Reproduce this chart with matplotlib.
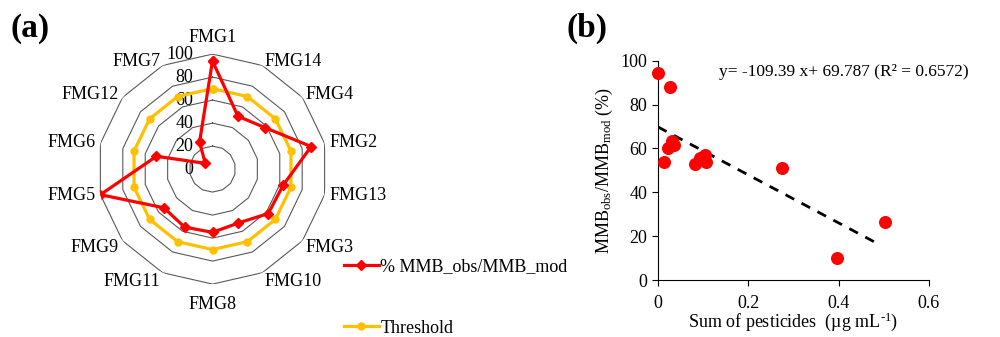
import numpy as np
import matplotlib
matplotlib.use("Agg")
from matplotlib import pyplot as plt

plt.rcParams['font.family'] = ['Liberation Serif', 'DejaVu Serif']
plt.rcParams['mathtext.fontset'] = 'custom'
plt.rcParams['mathtext.rm'] = 'Liberation Serif'
plt.rcParams['mathtext.it'] = 'Liberation Serif:italic'

# radar data (clockwise from top)
categories = ['FMG1', 'FMG14', 'FMG4', 'FMG2', 'FMG13', 'FMG3', 'FMG10',
              'FMG8', 'FMG11', 'FMG9', 'FMG5', 'FMG6', 'FMG12', 'FMG7']
mmb_ratio = [94, 51, 58, 88, 63, 62, 52, 55, 56, 54, 100, 50, 8, 26]
threshold = [70] * 14
ring_levels = [0, 20, 40, 60, 80, 100]

# scatter data
pesticides = [0.0, 0.026, 0.013, 0.022, 0.032, 0.036, 0.083, 0.092, 0.103,
              0.107, 0.274, 0.397, 0.502]
mmb_obs_mod = [94.4, 87.8, 53.8, 60.0, 63.5, 61.5, 52.7, 55.5, 57.0, 53.6,
               51.2, 10.2, 26.6]
slope = -109.39
intercept = 69.787
r_squared = 0.6572
fit_range = [0.0, 0.494]

red = '#FF0000'
gold = '#FFC000'
fs = 13

fig = plt.figure(figsize=(10, 3.37), dpi=100)

# ---- (a) radar ----
ax = fig.add_axes([0.0975, 0.157, 0.23, 0.6825], projection='polar')
ax.set_theta_zero_location('N')
ax.set_theta_direction(-1)
ax.set_ylim(0, 100)
ax.grid(False)
ax.spines['polar'].set_visible(False)
ax.set_xticks([])
ax.set_yticks([])
ax.patch.set_alpha(0)

n = len(categories)
theta = np.arange(n) * 2 * np.pi / n
theta_closed = np.append(theta, theta[0])

for lev in ring_levels[1:]:
    ax.plot(theta_closed, [lev] * (n + 1), color='#595959', lw=0.8, zorder=1)
for lev in ring_levels:
    ax.annotate(str(lev), xy=(0, lev), xytext=(-14, 0), textcoords='offset points',
                ha='right', va='center', fontsize=fs)

for t, name in zip(theta, categories):
    s = np.sin(t)
    c = np.cos(t)
    if abs(s) < 0.1:
        ha = 'center'
        va = 'bottom' if c > 0 else 'top'
        r = 107
    else:
        ha = 'left' if s > 0 else 'right'
        va = 'center'
        r = 104
    dy = -3 if c < -0.5 else 0
    ax.annotate(name, xy=(t, r), xytext=(0, dy), textcoords='offset points',
                ha=ha, va=va, fontsize=fs, annotation_clip=False)

l1, = ax.plot(theta_closed, mmb_ratio + mmb_ratio[:1], color=red, lw=2.3,
              marker='D', ms=5.5, zorder=4, label='% MMB_obs/MMB_mod')
l2, = ax.plot(theta_closed, threshold + threshold[:1], color=gold, lw=2.3,
              marker='o', ms=5, zorder=3, label='Threshold')

fig.legend(handles=[l1, l2], loc='upper left', bbox_to_anchor=(0.337, 0.255),
           frameon=False, fontsize=fs, handlelength=1.9, handletextpad=0.1,
           labelspacing=2.45, borderaxespad=0)

# ---- (b) scatter ----
bx = fig.add_axes([0.658, 0.169, 0.271, 0.651])
bx.scatter(pesticides, mmb_obs_mod, s=70, color=red, zorder=3, clip_on=False)
fx = np.array(fit_range)
bx.plot(fx, slope * fx + intercept, color='black', lw=2, ls=(0, (3.5, 3)))
bx.set_xlim(0, 0.6)
bx.set_ylim(0, 100)
bx.set_xticks([0, 0.2, 0.4, 0.6])
bx.set_xticklabels(['0', '0.2', '0.4', '0.6'])
bx.set_yticks(ring_levels)
bx.spines['top'].set_visible(False)
bx.spines['right'].set_visible(False)
bx.tick_params(labelsize=fs, direction='out', length=4)
bx.tick_params(axis='x', pad=7)
bx.set_xlabel(r'Sum of pesticides  (µg mL$^{\text{-1}}$)', fontsize=fs, labelpad=-1)
bx.set_ylabel(r'MMB$_{\mathrm{obs}}$/MMB$_{\mathrm{mod}}$ (%)', fontsize=fs, labelpad=4)
bx.text(0.135, 95, 'y= %.2f x+ %.3f (R² = %.4f)' % (slope, intercept, r_squared),
        fontsize=12.5, va='center', ha='left')

fig.text(0.01, 0.915, '(a)', fontsize=24, fontweight='bold', va='center')
fig.text(0.566, 0.915, '(b)', fontsize=24, fontweight='bold', va='center')

fig.savefig('out.png', dpi=100)
